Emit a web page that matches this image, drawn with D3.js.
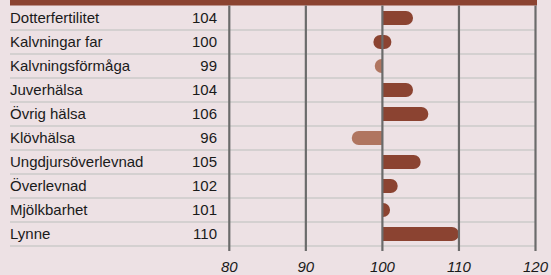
<!DOCTYPE html>
<html>
<head>
<meta charset="utf-8">
<script src="https://cdn.jsdelivr.net/npm/d3@7"></script>
<style>
  html, body { margin: 0; padding: 0; background: #ede1e4; }
  svg { display: block; }
  text { font-family: "Liberation Sans", Arial, sans-serif; fill: #1a1a1a; }
</style>
</head>
<body>
<svg id="chart" width="551" height="275"></svg>
<script>
const categories = ["Dotterfertilitet", "Kalvningar far", "Kalvningsförmåga", "Juverhälsa", "Övrig hälsa", "Klövhälsa", "Ungdjursöverlevnad", "Överlevnad", "Mjölkbarhet", "Lynne"];
const values = [104, 100, 99, 104, 106, 96, 105, 102, 101, 110];
const tickValues = [80, 90, 100, 110, 120];
const baseline = 100;

const W = 551, H = 275;
const svg = d3.select("#chart");
const dark = "#8b4331", light = "#b07560";

const x = d3.scaleLinear().domain([80, 120]).range([229.3, 535.5]);
const y = d3.scaleBand().domain(categories).range([6, 246]).padding(0);

// background
svg.append("rect").attr("width", W).attr("height", H).attr("fill", "#ede1e4");

// top band
svg.append("rect").attr("x", 10).attr("y", 0).attr("width", 527).attr("height", 5.5).attr("fill", dark);

// row separators
svg.append("g").selectAll("line").data(categories).join("line")
  .attr("x1", 10).attr("x2", 536)
  .attr("y1", d => y(d) + y.bandwidth()).attr("y2", d => y(d) + y.bandwidth())
  .attr("stroke", "#d4d0d0").attr("stroke-width", 2);

// bars
const h = 14, r = 7;
function barPath(v, cy) {
  const x0 = x(baseline), x1 = x(v);
  const top = cy - h / 2, bot = cy + h / 2;
  if (v === baseline) {
    const a = x0 - 9, b = x0 + 9;
    return `M${a + r},${top} H${b - r} A${r},${r} 0 0 1 ${b - r},${bot} H${a + r} A${r},${r} 0 0 1 ${a + r},${top} Z`;
  }
  if (x1 > x0) {
    return `M${x0},${top} H${x1 - r} A${r},${r} 0 0 1 ${x1 - r},${bot} H${x0} Z`;
  }
  return `M${x0},${top} H${x1 + r} A${r},${r} 0 0 0 ${x1 + r},${bot} H${x0} Z`;
}
svg.append("g").selectAll("path").data(categories).join("path")
  .attr("d", (d, i) => barPath(values[i], y(d) + y.bandwidth() / 2))
  .attr("fill", (d, i) => values[i] >= baseline ? dark : light);

// gridlines
svg.append("g").selectAll("line").data(tickValues).join("line")
  .attr("x1", d => x(d)).attr("x2", d => x(d))
  .attr("y1", 5.5).attr("y2", 251)
  .attr("stroke", "#6b6b6b").attr("stroke-width", 2.2);

// labels
svg.append("g").selectAll("text").data(categories).join("text")
  .attr("x", 10).attr("y", d => y(d) + y.bandwidth() / 2 + 5.3)
  .attr("font-size", 15).text(d => d);

svg.append("g").selectAll("text").data(categories).join("text")
  .attr("x", 217).attr("y", d => y(d) + y.bandwidth() / 2 + 5.3)
  .attr("text-anchor", "end")
  .attr("font-size", 15).text((d, i) => values[i]);

// axis tick labels
svg.append("g").selectAll("text").data(tickValues).join("text")
  .attr("x", d => x(d)).attr("y", 271.5)
  .attr("text-anchor", "middle").attr("font-style", "italic")
  .attr("font-size", 15).text(d => d);
</script>
</body>
</html>
